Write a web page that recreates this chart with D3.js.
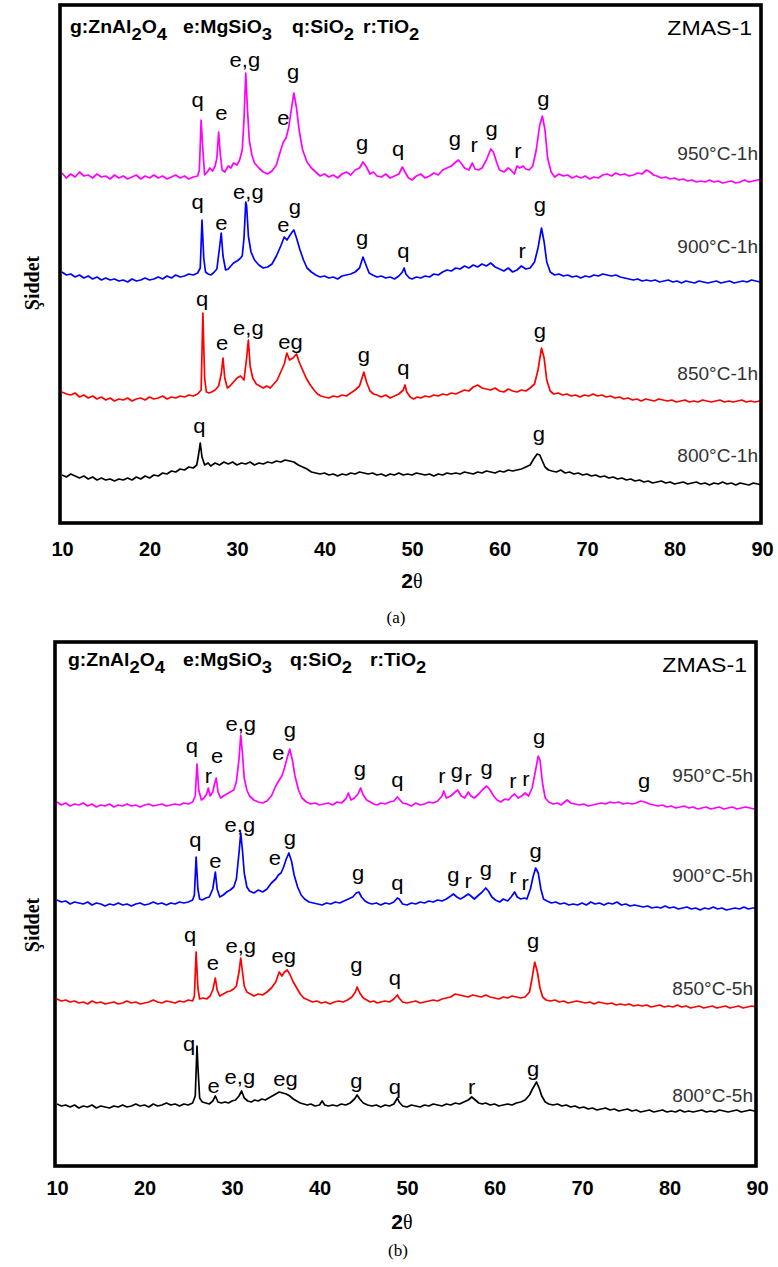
<!DOCTYPE html>
<html><head><meta charset="utf-8">
<script src="https://cdn.jsdelivr.net/npm/d3@7"></script>
<style>body{margin:0;background:#fff}svg{display:block}</style>
</head><body>
<svg id="chart" width="778" height="1267"></svg>
<script>
// ---------------- DATA ----------------
const angleTicks = [10,20,30,40,50,60,70,80,90];
const seriesNamesA = ["950°C-1h","900°C-1h","850°C-1h","800°C-1h"];
const seriesNamesB = ["950°C-5h","900°C-5h","850°C-5h","800°C-5h"];
// stacking offsets (a.u.) of each pattern
const offsetsA = [347,245,125,48];
const offsetsB = [362,263,164,60];
// intensity (relative to each offset) at which the temperature tag sits
const tagLevelA = [16,25,18,13];
const tagLevelB = [22,21,7,4];
const legendParts = [[["g:ZnAl","2"],["O","4"]],[["e:MgSiO","3"]],[["q:SiO","2"]],[["r:TiO","2"]]];

// patterns: flat [2θ, intensity, 2θ, intensity, ...]
const a950 = [10,3,10.5,-2,11,2,11.5,-1,12,4,12.5,0,13,1,13.5,-2,14,2,14.5,-1,15,0,15.5,-3,16,1,16.5,-2,17,0,17.5,-3,18,-1,18.5,1,19,-3,19.5,0,20,-2,20.5,1,21,-2,21.5,0,22,-3,22.5,-1,23,1,23.5,-2,24,0,24.5,-3,25,-1,25.5,0,25.7,6,25.9,56,26.1,26,26.3,1,26.6,4,26.9,8,27.2,5,27.5,10,27.7,18,27.9,44,28.1,21,28.3,6,28.6,4,29,10,29.3,8,29.6,13,30,11,30.3,16,30.6,26,30.8,56,31,103,31.2,66,31.4,36,31.7,21,32,13,32.5,8,33,4,33.5,2,34,5,34.5,11,35,26,35.3,34,35.6,38,35.9,48,36.2,66,36.5,83,36.8,68,37.1,46,37.5,26,38,14,38.5,8,39,4,39.5,0,40,2,40.5,-1,41,1,41.5,-2,42,2,42.5,4,43,1,43.5,6,44,8,44.4,14,44.8,9,45.2,2,45.6,4,46,0,46.5,-1,47,2,47.5,-2,48,0,48.5,2,48.9,9,49.2,4,49.6,-2,50,-4,50.5,0,51,2,51.5,-2,52,0,52.5,3,53,1,53.5,6,54,8,54.5,10,55,14,55.3,16,55.6,13,56,8,56.5,6,56.9,13,57.2,7,57.6,6,58,8,58.5,16,59,27,59.3,24,59.7,13,60,6,60.5,4,61,8,61.3,6,61.7,2,62,10,62.3,8,62.7,10,63,7,63.4,6,63.8,10,64.2,26,64.6,51,64.9,60,65.2,46,65.5,18,65.9,4,66.3,-1,66.8,2,67.3,0,67.8,1,68.3,-2,68.8,0,69.3,-2,69.8,0,70.3,-3,70.8,-1,71.3,-2,71.8,1,72.3,2,72.8,0,73.3,3,73.8,1,74.3,2,74.8,0,75.3,1,75.8,3,76.3,2,76.8,6,77.2,4,77.6,1,78,0,78.5,-2,79,-1,79.5,-3,80,-2,80.5,-4,81,-3,81.5,-5,82,-4,82.5,-6,83,-5,83.5,-6,84,-4,84.5,-6,85,-5,85.5,-7,86,-6,86.5,-5,87,-7,87.5,-6,88,-4,88.5,-6,89,-5,89.5,-4,90,-3];
const a900 = [10,6,10.5,3,11,4,11.5,1,12,3,12.5,0,13,2,13.5,-1,14,1,14.5,-2,15,0,15.5,-2,16,-1,16.5,-3,17,-2,17.5,-4,18,-1,18.5,-3,19,-2,19.5,0,20,-2,20.5,-1,21,1,21.5,-1,22,2,22.5,0,23,3,23.5,1,24,2,24.5,4,25,3,25.5,5,25.8,10,26,58,26.2,20,26.4,6,26.7,4,27,3,27.3,5,27.7,9,28,30,28.2,45,28.4,22,28.7,8,29,9,29.3,12,29.6,15,30,17,30.3,19,30.6,22,30.8,40,31,76,31.1,72,31.3,42,31.6,26,32,18,32.5,13,33,10,33.5,11,34,14,34.5,22,35,32,35.4,41,35.7,38,36,42,36.3,46,36.5,48,36.8,40,37.2,28,37.6,18,38,10,38.5,6,39,3,39.5,1,40,2,40.5,0,41,1,41.5,-1,42,2,42.5,3,43,4,43.5,6,44,10,44.4,21,44.7,14,45.1,5,45.5,3,46,1,46.5,2,47,0,47.5,1,48,-1,48.5,2,48.9,6,49.1,10,49.3,4,49.7,0,50,-1,50.5,1,51,0,51.5,2,52,1,52.5,4,53,3,53.5,6,54,8,54.5,7,55,10,55.5,9,56,12,56.5,10,57,13,57.5,11,58,14,58.5,12,59,15,59.5,11,60,9,60.5,7,61,10,61.5,6,62,8,62.5,12,63,9,63.5,10,64,16,64.4,30,64.8,50,65.1,36,65.4,16,65.8,6,66.3,3,66.8,4,67.3,2,67.8,3,68.3,1,68.8,2,69.3,0,69.8,2,70.3,1,70.8,3,71.3,2,71.8,4,72.3,3,72.8,2,73.3,3,73.8,1,74.3,0,74.8,-1,75.3,-2,75.8,-1,76.3,-3,76.8,-2,77.3,-3,77.8,-2,78.3,-4,78.8,-3,79.3,-2,79.8,-4,80.3,-3,80.8,-5,81.3,-3,81.8,-4,82.3,-5,82.8,-3,83.3,-4,83.8,-5,84.3,-4,84.8,-3,85.3,-5,85.8,-4,86.3,-3,86.8,-5,87.3,-4,87.8,-3,88.3,-4,88.8,-2,89.3,-3,89.8,-4,90,-4];
const a850 = [10,6,10.5,4,11,3,11.5,5,12,1,12.5,3,13,0,13.5,2,14,-1,14.5,1,15,-2,15.5,0,16,-3,16.5,-1,17,-2,17.5,0,18,-3,18.5,-1,19,0,19.5,-2,20,1,20.5,-1,21,0,21.5,2,22,-1,22.5,1,23,0,23.5,2,24,1,24.5,3,25,2,25.5,4,25.9,8,26.1,85,26.3,20,26.5,6,26.8,5,27.1,6,27.5,8,27.9,12,28.2,24,28.4,40,28.6,20,28.9,10,29.2,12,29.6,16,30,20,30.4,22,30.8,18,31.1,40,31.3,58,31.5,32,31.8,20,32.2,14,32.6,12,33,10,33.4,12,33.8,10,34.2,14,34.6,18,35,26,35.4,34,35.7,45,36,38,36.4,40,36.8,44,37.1,36,37.5,28,37.9,20,38.3,14,38.8,8,39.2,4,39.6,2,40,1,40.5,0,41,2,41.5,1,42,3,42.5,2,43,5,43.5,8,44,12,44.5,26,44.8,16,45.2,7,45.6,4,46,3,46.5,1,47,3,47.5,0,48,2,48.5,4,49,8,49.2,13,49.4,6,49.8,1,50.2,-1,50.6,1,51,0,51.5,2,52,1,52.5,3,53,2,53.5,4,54,3,54.5,5,55,4,55.5,6,56,8,56.5,7,57,11,57.5,13,58,10,58.5,9,59,8,59.5,10,60,7,60.5,6,61,9,61.5,7,62,6,62.5,8,63,7,63.5,10,64,14,64.4,28,64.8,50,65.1,40,65.4,18,65.8,7,66.2,4,66.7,5,67.2,3,67.7,4,68.2,2,68.7,3,69.2,1,69.7,3,70.2,2,70.7,4,71.2,2,71.7,3,72.2,1,72.7,2,73.2,0,73.7,1,74.2,-1,74.7,0,75.2,-2,75.7,-1,76.2,-3,76.7,-1,77.2,-2,77.7,-3,78.2,-1,78.7,-2,79.2,-3,79.7,-2,80.2,-4,80.7,-3,81.2,-2,81.7,-4,82.2,-3,82.7,-4,83.2,-2,83.7,-3,84.2,-4,84.7,-3,85.2,-2,85.7,-4,86.2,-3,86.7,-4,87.2,-3,87.7,-2,88.2,-4,88.7,-3,89.2,-4,89.7,-3,90,-4];
const a800 = [10,0,10.5,-2,11,1,11.5,-1,12,-3,12.5,-1,13,-4,13.5,-2,14,-5,14.5,-3,15,-5,15.5,-4,16,-6,16.5,-4,17,-5,17.5,-3,18,-5,18.5,-2,19,-4,19.5,-1,20,-3,20.5,0,21,-1,21.5,2,22,1,22.5,4,23,3,23.5,6,24,5,24.5,8,25,7,25.4,10,25.6,20,25.8,32,26,18,26.3,10,26.7,12,27,9,27.5,12,28,10,28.5,13,29,11,29.5,13,30,10,30.5,12,31,11,31.5,13,32,10,32.5,12,33,11,33.5,13,34,12,34.5,14,35,13,35.5,15,36,14,36.5,13,37,10,37.5,8,38,6,38.5,3,39,2,39.5,1,40,2,40.5,0,41,1,41.5,-1,42,1,42.5,0,43,2,43.5,1,44,3,44.5,2,45,1,45.5,2,46,0,46.5,1,47,-1,47.5,1,48,0,48.5,2,49,0,49.5,1,50,0,50.5,2,51,1,51.5,0,52,1,52.5,-1,53,1,53.5,0,54,2,54.5,1,55,2,55.5,1,56,3,56.5,2,57,1,57.5,3,58,2,58.5,4,59,3,59.5,2,60,4,60.5,3,61,5,61.5,4,62,5,62.5,6,63,8,63.5,10,63.9,16,64.3,21,64.6,20,64.9,14,65.2,8,65.6,5,66,4,66.5,3,67,5,67.5,2,68,3,68.5,1,69,2,69.5,0,70,1,70.5,-1,71,0,71.5,-2,72,-1,72.5,-3,73,-2,73.5,-4,74,-3,74.5,-5,75,-4,75.5,-6,76,-5,76.5,-7,77,-6,77.5,-8,78,-7,78.5,-6,79,-8,79.5,-7,80,-9,80.5,-8,81,-7,81.5,-9,82,-8,82.5,-7,83,-9,83.5,-8,84,-10,84.5,-8,85,-9,85.5,-7,86,-9,86.5,-8,87,-10,87.5,-8,88,-9,88.5,-10,89,-8,89.5,-9,90,-10];
const b950 = [10,2,10.5,-1,11,1,11.5,-2,12,0,12.5,-1,13,1,13.5,-2,14,0,14.5,-3,15,-1,15.5,-2,16,0,16.5,-3,17,-1,17.5,-2,18,0,18.5,-2,19,-1,19.5,-3,20,-1,20.5,0,21,-2,21.5,-1,22,0,22.5,-2,23,-1,23.5,0,24,-1,24.5,1,25,0,25.5,2,25.8,8,26,40,26.2,14,26.5,4,26.8,6,27.1,10,27.3,16,27.5,8,27.8,12,28,20,28.2,26,28.4,12,28.7,6,29,8,29.4,10,29.8,12,30.2,14,30.5,22,30.8,45,31,69,31.2,50,31.4,26,31.7,14,32,8,32.5,4,33,2,33.5,1,34,3,34.5,8,35,18,35.4,24,35.7,28,36,36,36.3,46,36.6,55,36.9,44,37.2,28,37.6,14,38,6,38.5,2,39,0,39.5,1,40,-1,40.5,0,41,1,41.5,-1,42,2,42.5,1,43,5,43.3,11,43.6,4,44,6,44.4,10,44.7,16,45,9,45.4,4,45.8,2,46.2,0,46.6,-1,47,1,47.5,0,48,2,48.5,3,48.9,7,49.1,5,49.5,1,50,0,50.5,-2,51,1,51.5,-1,52,0,52.5,2,53,1,53.5,3,54,8,54.2,13,54.5,6,55,8,55.5,12,55.8,14,56.2,8,56.6,6,57,12,57.3,8,57.7,6,58.2,10,58.6,14,59.1,18,59.5,14,59.9,8,60.3,4,60.7,2,61.2,5,61.6,4,62,8,62.3,10,62.7,6,63.1,8,63.5,11,63.9,8,64.3,16,64.7,34,65,48,65.2,44,65.5,20,65.8,6,66.2,2,66.7,0,67.2,1,67.6,-1,68,2,68.3,4,68.7,1,69.2,0,69.7,-1,70.2,0,70.7,-2,71.2,-1,71.7,0,72.2,1,72.7,0,73.2,2,73.7,1,74.2,2,74.7,0,75.2,1,75.7,0,76.2,1,76.7,3,77.2,2,77.7,0,78.2,-1,78.7,-2,79.2,-1,79.7,-3,80.2,-2,80.7,-4,81.2,-3,81.7,-2,82.2,-4,82.7,-3,83.2,-5,83.7,-4,84.2,-3,84.7,-5,85.2,-4,85.7,-3,86.2,-5,86.7,-4,87.2,-3,87.7,-5,88.2,-4,88.7,-3,89.2,-4,89.7,-5,90,-4];
const b900 = [10,3,10.5,1,11,2,11.5,-1,12,1,12.5,0,13,-1,13.5,1,14,-2,14.5,0,15,-1,15.5,-3,16,-1,16.5,-2,17,0,17.5,-2,18,-1,18.5,-3,19,-1,19.5,0,20,-2,20.5,-1,21,1,21.5,-1,22,0,22.5,-2,23,0,23.5,-1,24,1,24.5,0,25,1,25.5,3,25.7,8,25.9,46,26.1,14,26.3,4,26.6,3,27,5,27.4,6,27.8,14,28.1,31,28.3,14,28.6,6,29,8,29.4,11,29.8,13,30.2,16,30.5,24,30.8,50,31,70,31.2,52,31.4,30,31.7,16,32,12,32.5,10,33,13,33.5,11,34,14,34.5,20,35,24,35.3,28,35.6,30,35.9,36,36.2,44,36.5,50,36.8,42,37.1,28,37.5,16,37.9,8,38.3,4,38.8,1,39.3,0,39.8,-1,40.3,-2,40.8,0,41.3,-1,41.8,1,42.3,0,42.8,2,43.3,4,43.8,6,44.2,10,44.5,11,44.8,6,45.2,2,45.6,0,46,-1,46.5,0,47,-2,47.5,0,48,-1,48.5,1,48.9,5,49.1,4,49.5,-1,50,-2,50.5,0,51,-1,51.5,1,52,0,52.5,2,53,1,53.5,3,54,2,54.5,4,55,7,55.3,9,55.7,6,56.1,4,56.5,6,57,9,57.3,7,57.7,4,58.2,8,58.6,11,59,15,59.3,12,59.7,6,60.1,3,60.6,1,61,4,61.5,2,61.9,6,62.3,11,62.6,6,63,4,63.4,5,63.7,4,64.1,14,64.4,26,64.7,35,65,30,65.3,14,65.6,4,66,2,66.5,0,67,1,67.5,-1,68,0,68.5,-2,69,-1,69.5,-2,70,0,70.5,-2,71,1,71.5,-1,72,0,72.5,-2,73,0,73.5,-1,74,1,74.5,-2,75,-1,75.5,-3,76,-2,76.5,-3,77,-4,77.5,-3,78,-5,78.5,-4,79,-5,79.5,-3,80,-5,80.5,-4,81,-6,81.5,-5,82,-4,82.5,-6,83,-5,83.5,-7,84,-5,84.5,-6,85,-4,85.5,-6,86,-5,86.5,-7,87,-6,87.5,-5,88,-6,88.5,-4,89,-6,89.5,-5,90,-5];
const b850 = [10,3,10.5,1,11,2,11.5,0,12,1,12.5,-1,13,0,13.5,-2,14,1,14.5,-1,15,0,15.5,-2,16,-1,16.5,0,17,-2,17.5,-1,18,1,18.5,-1,19,0,19.5,-2,20,-1,20.5,0,21,2,21.5,0,22,-1,22.5,1,23,0,23.5,-1,24,1,24.5,0,25,2,25.5,1,25.7,6,25.9,50,26.1,14,26.3,3,26.7,4,27.1,3,27.5,6,27.8,12,28.1,24,28.3,12,28.6,6,29,8,29.4,10,29.8,11,30.2,13,30.5,16,30.8,30,31,44,31.2,30,31.4,16,31.7,10,32.1,8,32.5,6,33,8,33.5,7,34,10,34.5,14,35,20,35.4,30,35.7,26,36,30,36.3,32,36.6,28,37,20,37.4,14,37.8,8,38.2,4,38.7,2,39.2,0,39.7,1,40.2,-1,40.7,0,41.2,-2,41.7,0,42.2,1,42.7,0,43.2,2,43.7,5,44.1,10,44.3,15,44.6,9,45,4,45.4,2,45.8,0,46.2,1,46.6,-1,47,0,47.5,1,48,0,48.5,3,48.9,7,49.1,4,49.5,0,50,-1,50.5,0,51,1,51.5,-1,52,0,52.5,1,53,2,53.5,1,54,3,54.5,4,55,5,55.5,8,56,7,56.5,6,57,5,57.5,7,58,6,58.5,5,59,7,59.5,5,60,4,60.5,3,61,5,61.5,4,62,6,62.5,5,63,4,63.5,5,64,10,64.3,24,64.6,40,64.9,30,65.2,14,65.5,5,65.9,2,66.4,1,66.9,2,67.4,0,67.9,1,68.4,-1,68.9,0,69.4,1,69.9,0,70.4,-1,70.9,0,71.4,-2,71.9,0,72.4,-1,72.9,-2,73.4,-1,73.9,-3,74.4,-2,74.9,-3,75.4,-2,75.9,-4,76.4,-3,76.9,-4,77.4,-3,77.9,-5,78.4,-4,78.9,-3,79.4,-5,79.9,-4,80.4,-5,80.9,-3,81.4,-5,81.9,-4,82.4,-6,82.9,-5,83.4,-4,83.9,-6,84.4,-5,84.9,-4,85.4,-6,85.9,-5,86.4,-4,86.9,-6,87.4,-5,87.9,-4,88.4,-6,88.9,-5,89.4,-4,89.9,-5,90,-5];
const b800 = [10,2,10.5,0,11,1,11.5,-1,12,1,12.5,-2,13,0,13.5,-1,14,1,14.5,-2,15,0,15.5,-1,16,-2,16.5,0,17,-1,17.5,1,18,-1,18.5,0,19,2,19.5,0,20,1,20.5,-1,21,2,21.5,0,22,1,22.5,3,23,1,23.5,2,24,0,24.5,2,25,1,25.5,3,25.8,10,26,60,26.1,40,26.3,8,26.6,4,27,3,27.4,2,27.8,5,28.1,10,28.4,4,28.8,3,29.2,4,29.6,3,30,5,30.4,6,30.8,10,31.1,15,31.4,8,31.8,5,32.2,4,32.6,6,33,5,33.4,7,33.8,6,34.2,8,34.6,10,35,12,35.4,14,35.8,13,36.2,12,36.6,10,37,7,37.4,5,37.8,3,38.2,2,38.6,1,39,2,39.5,0,40,1,40.3,5,40.6,1,41,0,41.5,1,42,0,42.5,2,43,1,43.5,3,44,7,44.3,11,44.6,7,45,3,45.5,1,46,0,46.5,1,47,-1,47.5,1,48,0,48.5,2,48.9,8,49.1,4,49.5,0,50,-1,50.5,1,51,0,51.5,-1,52,1,52.5,0,53,2,53.5,1,54,0,54.5,2,55,1,55.5,3,56,2,56.5,4,57,6,57.4,9,57.8,6,58.2,3,58.6,2,59,3,59.5,1,60,2,60.5,0,61,1,61.5,2,62,1,62.5,3,63,4,63.5,6,64,11,64.4,18,64.8,24,65.1,18,65.4,10,65.8,4,66.2,2,66.7,1,67.2,2,67.7,0,68.2,1,68.7,-1,69.2,0,69.7,-2,70.2,-1,70.7,-3,71.2,-2,71.7,-4,72.2,-3,72.7,-2,73.2,-4,73.7,-3,74.2,-5,74.7,-4,75.2,-3,75.7,-5,76.2,-4,76.7,-6,77.2,-5,77.7,-4,78.2,-6,78.7,-5,79.2,-4,79.7,-6,80.2,-5,80.7,-6,81.2,-4,81.7,-6,82.2,-5,82.7,-6,83.2,-5,83.7,-4,84.2,-6,84.7,-5,85.2,-6,85.7,-4,86.2,-5,86.7,-6,87.2,-5,87.7,-4,88.2,-6,88.7,-5,89.2,-4,89.7,-5,90,-5];

// peak labels: [pattern index, phase, 2θ, intensity relative to offset]
const peakLabelsA = [
 [0,"q",25.5,69],[0,"e",28.2,56],[0,"e,g",30.9,109],[0,"e",35.3,51],[0,"g",36.4,97],[0,"g",44.3,26],[0,"q",48.4,20],[0,"g",54.9,30],[0,"r",57.1,24],[0,"g",59.1,40],[0,"r",62.1,18],[0,"g",65.0,70],
 [1,"q",25.5,69],[1,"e",28.2,48],[1,"e,g",31.3,79],[1,"e",35.3,46],[1,"g",36.6,64],[1,"g",44.3,33],[1,"q",49.0,20],[1,"r",62.6,20],[1,"g",64.6,66],
 [2,"q",26.0,92],[2,"e",28.3,48],[2,"e,g",31.3,63],[2,"eg",36.1,49],[2,"g",44.5,36],[2,"q",49.0,23],[2,"g",64.6,60],
 [3,"q",25.7,42],[3,"g",64.5,34]
];
const peakLabelsB = [
 [0,"q",25.4,51],[0,"r",27.3,21],[0,"e",28.3,41],[0,"e,g",31.0,73],[0,"e",35.3,44],[0,"g",36.6,67],[0,"g",44.6,28],[0,"q",48.9,17],[0,"r",54.0,21],[0,"g",55.7,26],[0,"r",57.0,19],[0,"g",59.1,29],[0,"r",62.1,16],[0,"r",63.6,18],[0,"g",65.1,60],[0,"g",77.1,16],
 [1,"q",25.8,56],[1,"e",28.1,35],[1,"e,g",30.9,71],[1,"e",34.9,38],[1,"g",36.6,58],[1,"g",44.4,23],[1,"q",48.9,13],[1,"g",55.3,21],[1,"r",57.0,15],[1,"g",59.0,27],[1,"r",62.1,20],[1,"r",63.5,13],[1,"g",64.7,45],
 [2,"q",25.2,60],[2,"e",27.8,32],[2,"e,g",31.0,49],[2,"eg",35.9,39],[2,"g",44.2,30],[2,"q",48.6,17],[2,"g",64.4,54],
 [3,"q",25.1,55],[3,"e",27.9,13],[3,"e,g",30.9,22],[3,"eg",36.1,20],[3,"g",44.2,18],[3,"q",48.6,12],[3,"r",57.4,12],[3,"g",64.4,30]
];

// ---------------- DRAWING ----------------
const colors = ["#ff00ff","#0000ff","#ff0000","#000000"];
const svg = d3.select("#chart");
const SANS = '"Liberation Sans", Arial, sans-serif';
const NARROW = '"Liberation Sans Narrow", "Arial Narrow", "Liberation Sans", sans-serif';
const SERIF = '"Liberation Serif", "Times New Roman", serif';

function txt(g, x, y, s, o) {
  return g.append("text")
    .attr("transform", `translate(${x},${y}) scale(${o.sx || 1},1)`)
    .attr("text-anchor", o.anchor || "start")
    .style("font-family", o.family || SANS)
    .style("font-size", o.size + "px")
    .style("font-weight", o.weight || "normal")
    .attr("fill", o.fill || "#000")
    .text(s);
}

const panels = [
  {series:[a950,a900,a850,a800], offsets:offsetsA, names:seriesNamesA, tags:tagLevelA, labels:peakLabelsA,
   frame:{l:60,r:761,t:5,b:523}, xr:[62,762], legendY:33, legendX:[70,183,292,363], zmasY:35,
   tickPad:19, thetaY:588, thetaX:412, capY:623, capX:396, cap:"(a)", ylabY:283},
  {series:[b950,b900,b850,b800], offsets:offsetsB, names:seriesNamesB, tags:tagLevelB, labels:peakLabelsB,
   frame:{l:55,r:756,t:642,b:1166}, xr:[57,757], legendY:666, legendX:[68,183,290,370], zmasY:672,
   tickPad:15, thetaY:1229, thetaX:402, capY:1256, capX:398, cap:"(b)", ylabY:925}
];

panels.forEach(p => {
  const g = svg.append("g");
  const x = d3.scaleLinear().domain([10, 90]).range(p.xr);
  const y = d3.scaleLinear().domain([0, p.frame.b - p.frame.t]).range([p.frame.b, p.frame.t]);

  p.series.forEach((flat, i) => {
    const pts = [];
    for (let k = 0; k < flat.length; k += 2) pts.push([flat[k], flat[k + 1]]);
    const line = d3.line().x(d => x(d[0])).y(d => y(p.offsets[i] + d[1]));
    g.append("path").datum(pts).attr("d", line)
      .attr("fill", "none").attr("stroke", colors[i]).attr("stroke-width", 1.7)
      .attr("stroke-linejoin", "round");
    txt(g, x(89.55), y(p.offsets[i] + p.tags[i]), p.names[i],
        {size: 18, anchor: "end", fill: "#333", sx: 1.06});
  });

  p.labels.forEach(([i, s, tt, lv]) => {
    txt(g, x(tt), y(p.offsets[i] + lv), s, {size: 20, anchor: "middle", sx: 1.1});
  });

  legendParts.forEach((parts, j) => {
    const t = g.append("text")
      .attr("transform", `translate(${p.legendX[j]},${p.legendY}) scale(1.08,1)`)
      .style("font-family", SANS).style("font-weight", "bold").style("font-size", "18px");
    parts.forEach(([main, sub], k) => {
      t.append("tspan").attr("dy", k === 0 ? 0 : -7).text(main);
      t.append("tspan").attr("dy", 7).style("font-size", "17px").text(sub);
    });
  });
  txt(g, p.frame.r - 9, p.zmasY, "ZMAS-1", {size: 21, anchor: "end", sx: 1.1});

  g.append("rect").attr("x", p.frame.l).attr("y", p.frame.t)
    .attr("width", p.frame.r - p.frame.l).attr("height", p.frame.b - p.frame.t)
    .attr("fill", "none").attr("stroke", "#000").attr("stroke-width", 3.6);

  const ax = g.append("g").attr("transform", `translate(0,${p.frame.b})`)
    .call(d3.axisBottom(x).tickValues(angleTicks).tickSize(0).tickPadding(p.tickPad).tickFormat(d3.format("d")));
  ax.select(".domain").remove();
  ax.selectAll("text").style("font-family", NARROW).style("font-weight", "bold")
    .style("font-size", "20px").attr("fill", "#000");

  const th = g.append("text").attr("x", p.thetaX).attr("y", p.thetaY).attr("text-anchor", "middle");
  th.append("tspan").style("font-family", NARROW).style("font-weight", "bold").style("font-size", "21px").text("2");
  th.append("tspan").style("font-family", SERIF).style("font-size", "20px").text("θ");
  txt(g, p.capX, p.capY, p.cap, {size: 17, anchor: "middle", family: SERIF});
  g.append("text").attr("transform", `translate(39,${p.ylabY}) rotate(-90)`)
    .attr("text-anchor", "middle").style("font-family", SERIF).style("font-weight", "bold")
    .style("font-size", "20px").text("Şiddet");
});
</script>
</body></html>
